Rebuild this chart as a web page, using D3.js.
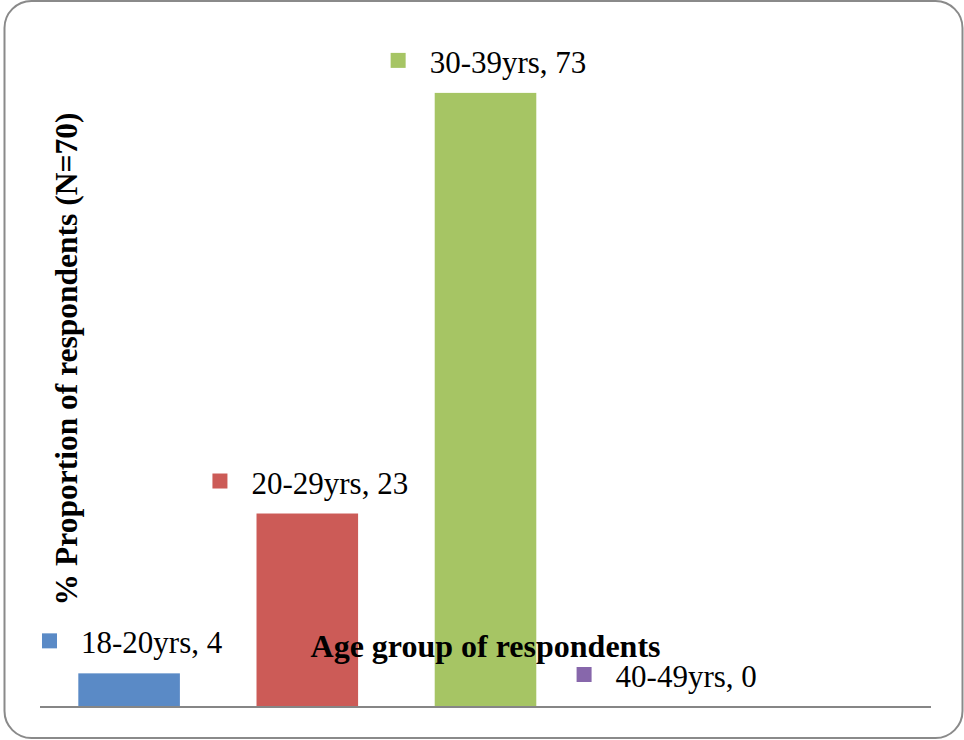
<!DOCTYPE html>
<html>
<head>
<meta charset="utf-8">
<script src="https://cdnjs.cloudflare.com/ajax/libs/d3/7.8.5/d3.min.js"></script>
<style>
    body { margin: 0; background: white; }
</style>
</head>
<body>
<svg id="chart"></svg>
<script>
// age groups and their share of respondents
var categories = ["18-20yrs", "20-29yrs", "30-39yrs", "40-49yrs"];
var values = [4, 23, 73, 0];
var colors = ["#5A8AC6", "#CC5B57", "#A6C564", "#8767AB"];

var width = 964;
var height = 740;
var serif = "'Liberation Serif', 'Times New Roman', serif";

var svg = d3.select("#chart")
    .attr("width", width)
    .attr("height", height)

// rounded frame around the whole chart
svg.append("rect")
    .attr("x", 4.5)
    .attr("y", 1)
    .attr("width", 958)
    .attr("height", 737)
    .attr("rx", 27)
    .attr("fill", "white")
    .attr("stroke", "#8a8a8a")
    .attr("stroke-width", 2)

var plotLeft = 40;
var plotRight = 931;
var step = (plotRight - plotLeft) / 5;

var xScale = d3.scaleBand()
    .domain(categories)
    .range([plotLeft, plotLeft + step * categories.length])
    .paddingInner(0.43)
    .paddingOuter(0.215);

var yScale = d3.scaleLinear()
    .domain([0, 80])
    .range([707, 34]);

svg.selectAll(".bar")
    .data(values)
    .enter()
    .append("rect")
    .attr("class", "bar")
    .attr("x", function(d, i) { return xScale(categories[i]); })
    .attr("y", function(d) { return yScale(d); })
    .attr("width", xScale.bandwidth())
    .attr("height", function(d) { return yScale(0) - yScale(d); })
    .attr("fill", function(d, i) { return colors[i]; })

// baseline
svg.append("line")
    .attr("x1", plotLeft)
    .attr("x2", plotRight)
    .attr("y1", yScale(0))
    .attr("y2", yScale(0))
    .attr("stroke", "#868686")
    .attr("stroke-width", 2)

// data labels: coloured key square + "category, value"
var labels = svg.selectAll(".label")
    .data(values)
    .enter()
    .append("g")
    .attr("class", "label")

labels.append("text")
    .attr("y", function(d) { return yScale(d) - 20; })
    .attr("font-family", serif)
    .attr("font-size", 31)
    .attr("fill", "black")
    .text(function(d, i) { return categories[i] + ", " + d; })
    .each(function(d, i) {
        var w = this.getComputedTextLength();
        var total = 15 + 24 + w;
        var cx = xScale(categories[i]) + xScale.bandwidth() / 2 + 3;
        var left = cx - total / 2;
        d3.select(this).attr("x", left + 39);
        d3.select(this.parentNode).insert("rect", "text")
            .attr("x", left)
            .attr("y", yScale(d) - 20 - 20)
            .attr("width", 15)
            .attr("height", 15)
            .attr("fill", colors[i]);
    })

// axis titles
svg.append("text")
    .attr("x", (plotLeft + plotRight) / 2)
    .attr("y", 657)
    .attr("text-anchor", "middle")
    .attr("font-family", serif)
    .attr("font-size", 32)
    .attr("font-weight", "bold")
    .text("Age group of respondents")

svg.append("text")
    .attr("transform", "translate(77,359) rotate(-90)")
    .attr("text-anchor", "middle")
    .attr("font-family", serif)
    .attr("font-size", 31.5)
    .attr("font-weight", "bold")
    .text("% Proportion of respondents (N=70)")
</script>
</body>
</html>
